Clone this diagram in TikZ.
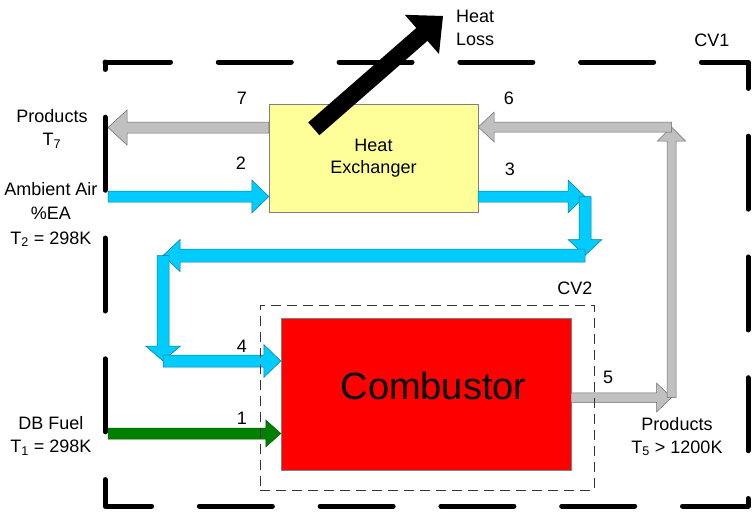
\documentclass[tikz,border=0pt]{standalone}
\usepackage{fontspec}
\setmainfont{Liberation Sans}
\usetikzlibrary{calc}
\definecolor{airblue}{RGB}{0,204,255}
\definecolor{prodgray}{RGB}{192,192,192}
\definecolor{fuelgreen}{RGB}{0,128,0}
\definecolor{hxyellow}{RGB}{255,255,153}
\definecolor{combred}{RGB}{255,0,0}

% block arrow: style, from, to, shaft half width, head half width, head length
\newcommand{\blockarrow}[6]{%
  \coordinate (ba) at ($(#3)!#6!(#2)$);
  \path[#1] ($(#2)!#4!90:(#3)$) -- ($(ba)!#4!-90:(#2)$) -- ($(ba)!#5!-90:(#2)$)
    -- (#3) -- ($(ba)!#5!90:(#2)$) -- ($(ba)!#4!90:(#2)$) -- ($(#2)!#4!-90:(#3)$) -- cycle;}

\tikzset{
  airflow/.style={fill=airblue, draw=airblue!60!black, line width=0.5pt},
  prodflow/.style={fill=prodgray, draw=gray!85!black, line width=0.5pt},
  fuelflow/.style={fill=fuelgreen, draw=fuelgreen!70!black, line width=0.5pt},
  lossflow/.style={fill=black},
  lbl/.style={font=\fontsize{18}{23}\selectfont, inner sep=0pt, align=center},
  cvone/.style={line width=5pt, line cap=round, line join=round, dash pattern=on 73pt off 47.78pt, dash phase=7.5pt},
  cvtwo/.style={draw=black!80, line width=1pt, dash pattern=on 10pt off 6pt},
}

\begin{document}
\begin{tikzpicture}[x=1pt, y=-1pt]
  \useasboundingbox (0,0) rectangle (753,517);

  % Control volume 1
  \draw[cvone] (105,62) -- (748,62) -- (748,506) -- (105,506) -- cycle;

  % Equipment
  \node[draw=gray, fill=hxyellow, minimum width=209pt, minimum height=108pt, lbl, font=\fontsize{18}{22}\selectfont] (hx) at (373.5,158) {Heat\\Exchanger};
  \node[draw=gray, fill=combred, minimum width=290pt, minimum height=152pt, inner sep=0pt] (comb) at (426,394) {};
  \node[font=\fontsize{38}{44}\selectfont, inner sep=0pt] (combtxt) at (433.5,386) {Combustor};

  % Stream end points and bends
  \coordinate (p7) at (108,127.5);
  \coordinate (p2) at (108,196.5);
  \coordinate (p3) at (585,196.5);
  \coordinate (q3) at (585,255.5);
  \coordinate (r3) at (163,255.5);
  \coordinate (s3) at (163,361);
  \coordinate (p1) at (108,433.5);
  \coordinate (p5) at (671.5,397.5);
  \coordinate (p6) at (671.5,127);
  \coordinate (hlin) at ($(hx.north west)+(45,25)$);
  \coordinate (hlout) at (443,16);

  % Air path
  \blockarrow{airflow}{p2}{hx.west |- p2}{5.5pt}{16.5pt}{17pt}
  \blockarrow{airflow}{hx.east |- p3}{p3}{5.5pt}{16.5pt}{17pt}
  \blockarrow{airflow}{p3}{q3}{6pt}{17pt}{16pt}
  \blockarrow{airflow}{q3}{r3}{6.5pt}{16pt}{17pt}
  \blockarrow{airflow}{r3}{s3}{6pt}{17.5pt}{15pt}
  \blockarrow{airflow}{s3}{comb.west |- s3}{6pt}{16.5pt}{17pt}

  % Fuel
  \blockarrow{fuelflow}{p1}{comb.west |- p1}{5.5pt}{13.5pt}{15pt}

  % Products path
  \blockarrow{prodflow}{comb.east |- p5}{p5}{4.75pt}{14.5pt}{15pt}
  \blockarrow{prodflow}{p5}{p6}{4.5pt}{14pt}{14pt}
  \blockarrow{prodflow}{p6}{hx.east |- p6}{5pt}{15pt}{16pt}
  \blockarrow{prodflow}{hx.west |- p7}{p7}{5.5pt}{17.5pt}{19pt}

  % Heat loss
  \blockarrow{lossflow}{hlin}{hlout}{8.5pt}{26pt}{28pt}

  % Control volume 2
  \node[cvtwo, minimum width=334pt, minimum height=185pt] (cv2) at (427,397.5) {};

  % Labels
  \node[lbl] (prod7) at (52,129) {Products\\T\textsubscript{7}};
  \node[lbl, font=\fontsize{18}{24.5}\selectfont] (air) at (51,214.5) {Ambient Air\\\%EA\\T\textsubscript{2} = 298K};
  \node[lbl] (fuel) at (51,436) {DB Fuel\\T\textsubscript{1} = 298K};
  \node[lbl] (prod5) at (677,436.5) {Products\\T\textsubscript{5} > 1200K};
  \node[lbl, align=left, anchor=west] (loss) at (456,27.5) {Heat\\Loss};
  \node[lbl] (n7) at (242,98) {7};
  \node[lbl] (n2) at (241,163) {2};
  \node[lbl] (n3) at (510,169) {3};
  \node[lbl] (n6) at (509,98) {6};
  \node[lbl] (n4) at (242,346) {4};
  \node[lbl] (n1) at (242,418) {1};
  \node[lbl] (n5) at (608,377) {5};
  \node[lbl] (cv2lbl) at (575,288) {CV2};
  \node[lbl] (cv1lbl) at (712,40) {CV1};
\end{tikzpicture}
\end{document}
